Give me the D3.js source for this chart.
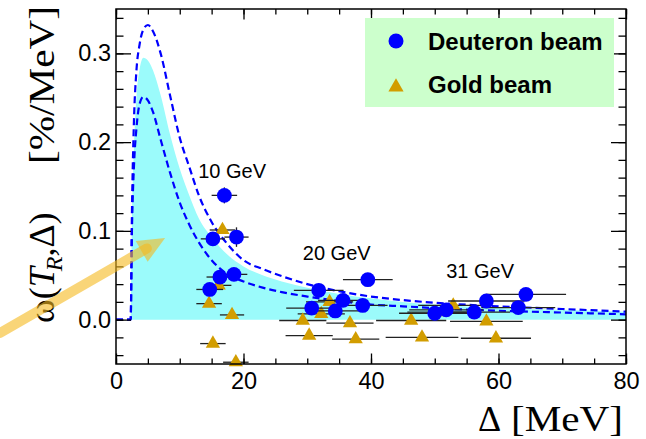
<!DOCTYPE html>
<html><head><meta charset="utf-8">
<script src="https://cdn.jsdelivr.net/npm/d3@7"></script>
<style>body{margin:0;background:#fff} svg{display:block}</style>
</head><body>
<svg id="chart" width="646" height="439"></svg>
<script>
// ---- data ----
const xTicks = [0, 20, 40, 60, 80];
const yTicks = [0.0, 0.1, 0.2, 0.3];
const xMinorTicks = d3.range(0, 80.1, 5);
const yMinorTicks = d3.range(-0.04, 0.345, 0.02).map(v => +v.toFixed(2));

const curveX = [0, 2.3, 2.5, 2.8, 3.2, 3.7, 4.3, 5.0, 5.8, 7.0, 8.5, 10, 11.5, 13, 15, 17.5, 20, 23, 26, 30, 35, 40, 45, 50, 60, 70, 80];
const upperY = [0, 0, 0.12, 0.22, 0.28, 0.31, 0.327, 0.332, 0.325, 0.30, 0.252, 0.205, 0.172, 0.14, 0.11, 0.085, 0.067, 0.057, 0.049, 0.040, 0.032, 0.026, 0.022, 0.019, 0.015, 0.012, 0.009];
const lowerY = [0, 0, 0.10, 0.17, 0.215, 0.243, 0.251, 0.247, 0.234, 0.203, 0.165, 0.132, 0.107, 0.087, 0.067, 0.051, 0.043, 0.036, 0.031, 0.026, 0.021, 0.017, 0.015, 0.013, 0.010, 0.008, 0.006];
const bandY  = [0, 0, 0.11, 0.19, 0.25, 0.282, 0.295, 0.292, 0.281, 0.253, 0.208, 0.17, 0.14, 0.114, 0.093, 0.073, 0.06, 0.05, 0.043, 0.036, 0.029, 0.024, 0.02, 0.017, 0.013, 0.011, 0.009];

const deuteronX    = [17.0, 15.2, 18.9, 16.3, 18.5, 14.7, 31.8, 30.7, 34.4, 35.6, 38.7, 39.5, 50.0, 51.8, 56.2, 58.1, 63.1, 64.3];
const deuteronY    = [0.140, 0.091, 0.093, 0.048, 0.051, 0.034, 0.033, 0.013, 0.0098, 0.0216, 0.016, 0.045, 0.0072, 0.011, 0.0084, 0.021, 0.0136, 0.0284];
const deuteronXErr = [2.0, 1.9, 1.9, 2.1, 2.1, 2.1, 3.9, 4.0, 3.8, 3.9, 3.9, 3.9, 5.6, 5.8, 5.6, 6.0, 5.8, 6.3];
const deuteronYErr = [0.009, 0.006, 0.011, 0.005, 0.005, 0.005, 0.004, 0.004, 0.004, 0.004, 0.004, 0.004, 0.003, 0.003, 0.003, 0.003, 0.003, 0.003];

const goldX    = [16.7, 16.1, 14.6, 18.2, 15.2, 18.8, 33.5, 32.2, 29.3, 36.7, 30.3, 37.6, 52.9, 51.2, 46.3, 58.1, 48.0, 59.6];
const goldY    = [0.101, 0.0386, 0.018, 0.0053, -0.027, -0.048, 0.020, 0.0064, -0.001, -0.004, -0.018, -0.022, 0.016, 0.0084, -0.001, -0.002, -0.020, -0.021];
const goldXErr = [2.0, 2.0, 2.0, 1.9, 2.0, 2.0, 3.7, 3.7, 3.7, 3.7, 3.7, 3.7, 5.5, 5.5, 5.5, 5.7, 5.7, 5.5];

const energyLabels = ["10 GeV", "20 GeV", "31 GeV"];
const energyLabelX = [12.9, 29.3, 51.8];
const energyLabelY = [0.160, 0.067, 0.047];

const legendNames = ["Deuteron beam", "Gold beam"];
const arrowFrom = [-18.2, -0.015];
const arrowTo   = [7.7, 0.092];

// ---- layout ----
const svg = d3.select("#chart");
const L = 116, R = 626, T = 9, B = 364;
const x = d3.scaleLinear().domain([0, 80]).range([L, R]);
const y = d3.scaleLinear().domain([-0.05, 0.35]).range([B, T]);

const BLUE = "#0000ff", GOLD = "#d29d00", CYAN = "#9bfbfb";

// band
const pts = curveX.map((v, i) => ({x: v, u: upperY[i], l: lowerY[i], b: bandY[i]}));
svg.append("path").datum(pts.slice(1))
  .attr("fill", CYAN)
  .attr("d", d3.area().x(d => x(d.x)).y0(y(0)).y1(d => y(d.b)).curve(d3.curveMonotoneX));

// dashed curves
["u", "l"].forEach(k => {
  svg.append("path").datum(pts)
    .attr("fill", "none").attr("stroke", BLUE).attr("stroke-width", 2.2)
    .attr("stroke-dasharray", "7,4")
    .attr("d", d3.line().x(d => x(d.x)).y(d => y(d[k])).curve(d3.curveMonotoneX));
});

// data
const gold = goldX.map((v, i) => ({x: v, y: goldY[i], ex: goldXErr[i]}));
const deut = deuteronX.map((v, i) => ({x: v, y: deuteronY[i], ex: deuteronXErr[i], ey: deuteronYErr[i]}));

const gG = svg.append("g");
gG.selectAll("line").data(gold).join("line")
  .attr("x1", d => x(d.x - d.ex)).attr("x2", d => x(d.x + d.ex))
  .attr("y1", d => y(d.y)).attr("y2", d => y(d.y))
  .attr("stroke", "#222").attr("stroke-width", 1.3);
const tri = d3.symbol().type(d3.symbolTriangle).size(88);
gG.selectAll("path").data(gold).join("path")
  .attr("d", tri).attr("fill", GOLD)
  .attr("transform", d => `translate(${x(d.x)},${y(d.y)})`);

const gD = svg.append("g");
gD.selectAll("line.h").data(deut).join("line").attr("class", "h")
  .attr("x1", d => x(d.x - d.ex)).attr("x2", d => x(d.x + d.ex))
  .attr("y1", d => y(d.y)).attr("y2", d => y(d.y))
  .attr("stroke", "#222").attr("stroke-width", 1.3);
gD.selectAll("line.v").data(deut).join("line").attr("class", "v")
  .attr("x1", d => x(d.x)).attr("x2", d => x(d.x))
  .attr("y1", d => y(d.y - d.ey)).attr("y2", d => y(d.y + d.ey))
  .attr("stroke", "#222").attr("stroke-width", 1.3);
gD.selectAll("circle").data(deut).join("circle")
  .attr("cx", d => x(d.x)).attr("cy", d => y(d.y)).attr("r", 7.4)
  .attr("fill", BLUE);

// energy labels
energyLabels.forEach((t, i) => {
  svg.append("text").attr("x", x(energyLabelX[i])).attr("y", y(energyLabelY[i]))
    .attr("font-family", "Liberation Sans, Arial, sans-serif").attr("font-size", 20)
    .attr("fill", "#000").text(t);
});

// axes
const fmt = d3.format(".1f");
function styleAxis(g) {
  g.select(".domain").remove();
  g.selectAll("line").attr("stroke", "#000").attr("stroke-width", 1.3);
  g.selectAll("text").attr("font-family", "Liberation Sans, Arial, sans-serif").attr("font-size", 23.5).attr("fill", "#000");
}
svg.append("g").attr("transform", `translate(${L},0)`)
  .call(d3.axisLeft(y).tickValues(yMinorTicks).tickSize(-7.5).tickFormat("")).call(styleAxis);
svg.append("g").attr("transform", `translate(${L},0)`)
  .call(d3.axisLeft(y).tickValues(yTicks).tickSize(-15).tickPadding(5).tickFormat(fmt)).call(styleAxis);
svg.append("g").attr("transform", `translate(${R},0)`)
  .call(d3.axisRight(y).tickValues(yMinorTicks).tickSize(-7.5).tickFormat("")).call(styleAxis);
svg.append("g").attr("transform", `translate(${R},0)`)
  .call(d3.axisRight(y).tickValues(yTicks).tickSize(-15).tickFormat("")).call(styleAxis);
svg.append("g").attr("transform", `translate(0,${B})`)
  .call(d3.axisBottom(x).tickValues(xMinorTicks).tickSize(-5.5).tickFormat("")).call(styleAxis);
svg.append("g").attr("transform", `translate(0,${B})`)
  .call(d3.axisBottom(x).tickValues(xTicks).tickSize(-10.5).tickPadding(8).tickFormat(d3.format("d"))).call(styleAxis);
svg.append("g").attr("transform", `translate(0,${T})`)
  .call(d3.axisTop(x).tickValues(xMinorTicks).tickSize(-5.5).tickFormat("")).call(styleAxis);
svg.append("g").attr("transform", `translate(0,${T})`)
  .call(d3.axisTop(x).tickValues(xTicks).tickSize(-10.5).tickFormat("")).call(styleAxis);
svg.append("rect").attr("x", L).attr("y", T).attr("width", R - L).attr("height", B - T)
  .attr("fill", "none").attr("stroke", "#000").attr("stroke-width", 1.5);

// legend
const lg = svg.append("g");
lg.append("rect").attr("x", 365).attr("y", 18).attr("width", 249).attr("height", 89).attr("fill", "#ccffcc");
lg.append("circle").attr("cx", 396).attr("cy", 41).attr("r", 7.5).attr("fill", BLUE);
lg.append("path").attr("d", d3.symbol().type(d3.symbolTriangle).size(100)).attr("fill", GOLD)
  .attr("transform", "translate(396,87)");
legendNames.forEach((t, i) => {
  lg.append("text").attr("x", 428).attr("y", 50 + i * 43)
    .attr("font-family", "Liberation Sans, Arial, sans-serif").attr("font-weight", "bold")
    .attr("font-size", 24).attr("fill", "#000").text(t);
});

// axis titles
const serif = "Liberation Serif, Times New Roman, serif";
svg.append("text").attr("x", 478).attr("y", 431).attr("font-family", serif).attr("font-size", 36).text("Δ");
svg.append("text").attr("x", 511).attr("y", 431).attr("font-family", serif).attr("font-size", 36)
  .attr("textLength", 112).attr("lengthAdjust", "spacingAndGlyphs").text("[MeV]");

const yt = svg.append("text").attr("transform", "translate(54,323) rotate(-90)")
  .attr("font-family", serif).attr("font-size", 36);
yt.append("tspan").text("ω(");
yt.append("tspan").attr("font-style", "italic").text("T");
yt.append("tspan").attr("font-style", "italic").attr("font-size", 24).attr("dy", 8).attr("dx", -4).text("R");
yt.append("tspan").attr("dy", -8).text(",Δ)");
svg.append("text").attr("transform", "translate(54,164) rotate(-90)")
  .attr("font-family", serif).attr("font-size", 36)
  .attr("textLength", 158).attr("lengthAdjust", "spacingAndGlyphs").text("[%/MeV]");

// arrow
const ax0 = x(arrowFrom[0]), ay0 = y(arrowFrom[1]), ax1 = x(arrowTo[0]), ay1 = y(arrowTo[1]);
const len = Math.hypot(ax1 - ax0, ay1 - ay0), ux = (ax1 - ax0) / len, uy = (ay1 - ay0) / len;
const headL = 27, headW = 12;
const ARROW = "rgba(245,185,30,0.6)";
svg.append("line").attr("x1", ax0).attr("y1", ay0)
  .attr("x2", ax1 - ux * 21).attr("y2", ay1 - uy * 21)
  .attr("stroke", ARROW).attr("stroke-width", 10).attr("stroke-linecap", "round");
const bx = ax1 - ux * headL, by = ay1 - uy * headL;
svg.append("path").attr("fill", ARROW)
  .attr("d", `M${ax1},${ay1}L${bx - uy * headW},${by + ux * headW}L${bx + uy * headW},${by - ux * headW}Z`);
</script>
</body></html>
